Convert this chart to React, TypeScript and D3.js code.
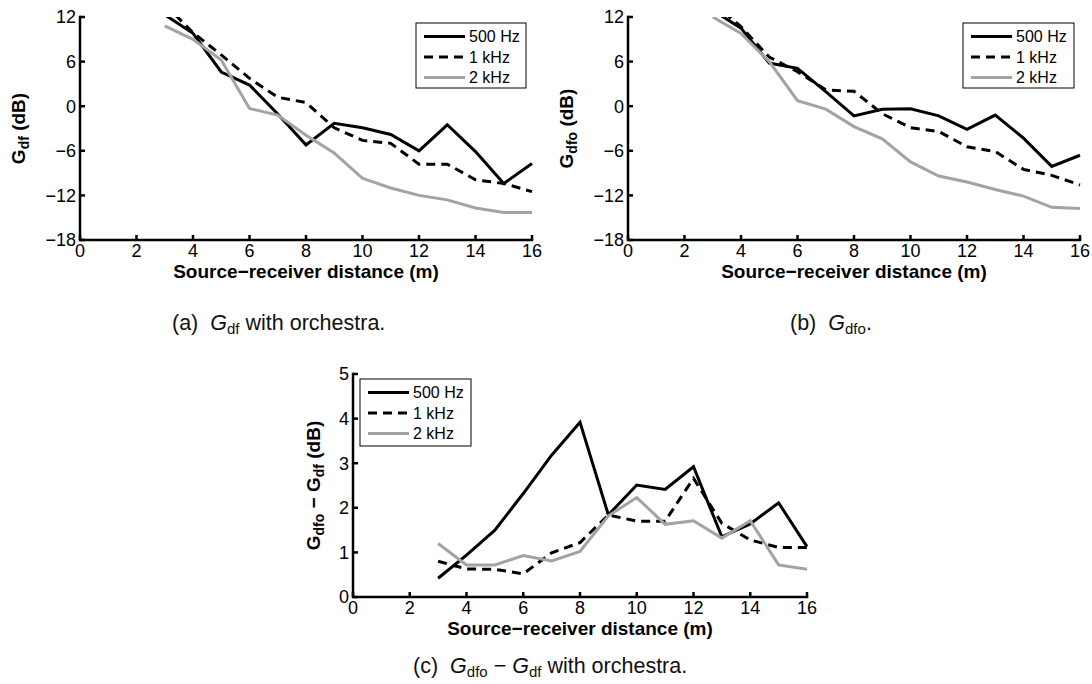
import * as d3 from 'd3'

// source-receiver distance (m)
const distances = [3, 4, 5, 6, 7, 8, 9, 10, 11, 12, 13, 14, 15, 16]
const bands = ['500 Hz', '1 kHz', '2 kHz']

// (a) Gdf with orchestra (dB)
const gdf500 = [12.3, 9.8, 4.6, 2.85, -1.05, -5.2, -2.3, -2.9, -3.8, -6.0, -2.5, -6.1, -10.4, -7.7]
const gdf1k = [13.7, 9.9, 6.9, 3.75, 1.2, 0.5, -2.9, -4.6, -5.0, -7.8, -7.8, -9.9, -10.4, -11.5]
const gdf2k = [10.8, 9.0, 6.2, -0.3, -1.2, -3.9, -6.3, -9.7, -11.0, -12.0, -12.6, -13.7, -14.3, -14.3]

// (b) Gdfo (dB)
const gdfo500 = [12.9, 10.5, 5.8, 5.1, 1.95, -1.3, -0.4, -0.35, -1.3, -3.1, -1.2, -4.3, -8.1, -6.6]
const gdfo1k = [13.9, 10.7, 6.6, 4.65, 2.2, 2.0, -1.0, -2.9, -3.4, -5.45, -6.1, -8.5, -9.3, -10.6]
const gdfo2k = [12.0, 9.8, 6.0, 0.75, -0.4, -2.75, -4.4, -7.5, -9.4, -10.2, -11.2, -12.1, -13.6, -13.75]

// (c) Gdfo - Gdf (dB)
const diff500 = [0.42, 0.94, 1.5, 2.32, 3.18, 3.92, 1.84, 2.51, 2.41, 2.92, 1.35, 1.64, 2.11, 1.13]
const diff1k = [0.8, 0.63, 0.62, 0.52, 0.99, 1.22, 1.84, 1.7, 1.7, 2.66, 1.65, 1.28, 1.11, 1.11]
const diff2k = [1.2, 0.72, 0.72, 0.93, 0.81, 1.02, 1.82, 2.23, 1.63, 1.71, 1.32, 1.71, 0.72, 0.62]

const xTicks = [0, 2, 4, 6, 8, 10, 12, 14, 16]
const gTicks = [-18, -12, -6, 0, 6, 12]
const diffTicks = [0, 1, 2, 3, 4, 5]

const FONT = '"Liberation Sans", Arial, Helvetica, sans-serif'
const lineStyles = [
  { stroke: '#000', dash: undefined },
  { stroke: '#000', dash: '9 6' },
  { stroke: '#a3a3a3', dash: undefined },
]

type PanelProps = {
  id: string
  x0: number
  y0: number
  w: number
  h: number
  yDomain: [number, number]
  yTicks: number[]
  series: number[][]
  yLabel: React.ReactNode
  yLabelX: number
  legend: { x: number; y: number; w: number; h: number }
}

function Panel({ id, x0, y0, w, h, yDomain, yTicks, series, yLabel, yLabelX, legend }: PanelProps) {
  const x = d3.scaleLinear().domain([0, 16]).range([x0, x0 + w])
  const y = d3.scaleLinear().domain(yDomain).range([y0 + h, y0])
  const line = d3
    .line<number>()
    .x((_, i) => x(distances[i]))
    .y((d) => y(d))
  const fmt = d3.format('')

  return (
    <g>
      <defs>
        <clipPath id={id}>
          <rect x={x0 - 20} y={y0} width={w + 40} height={h + 20} />
        </clipPath>
      </defs>
      <g clipPath={`url(#${id})`}>
        {series.map((s, i) => (
          <path
            key={i}
            d={line(s) ?? ''}
            fill="none"
            stroke={lineStyles[i].stroke}
            strokeWidth={3}
            strokeDasharray={lineStyles[i].dash}
            strokeLinejoin="miter"
          />
        ))}
      </g>

      {/* axes */}
      <path
        d={`M${x0},${y0}V${y0 + h}H${x0 + w}`}
        fill="none"
        stroke="#000"
        strokeWidth={2.5}
        strokeLinecap="square"
      />
      {yTicks.map((t) => (
        <g key={'y' + t}>
          <line x1={x0} x2={x0 + 5} y1={y(t)} y2={y(t)} stroke="#000" strokeWidth={2.5} />
          <text x={x0 - 4} y={y(t)} dy="0.35em" textAnchor="end" fontSize={18}>
            {fmt(t)}
          </text>
        </g>
      ))}
      {xTicks.map((t) => (
        <g key={'x' + t}>
          <line x1={x(t)} x2={x(t)} y1={y0 + h} y2={y0 + h - 5} stroke="#000" strokeWidth={2.5} />
          <text x={x(t)} y={y0 + h + 17} textAnchor="middle" fontSize={18}>
            {fmt(t)}
          </text>
        </g>
      ))}

      <text x={x0 + w / 2} y={y0 + h + 38} textAnchor="middle" fontSize={19} fontWeight="bold">
        Source−receiver distance (m)
      </text>
      <text
        transform={`translate(${yLabelX},${y0 + h / 2}) rotate(-90)`}
        textAnchor="middle"
        fontSize={19}
        fontWeight="bold"
      >
        {yLabel}
      </text>

      {/* legend */}
      <rect x={legend.x} y={legend.y} width={legend.w} height={legend.h} fill="#fff" stroke="#000" strokeWidth={1} />
      {bands.map((b, i) => {
        const ly = legend.y + 13.5 + i * 20.5
        return (
          <g key={b}>
            <line
              x1={legend.x + 8}
              x2={legend.x + 49}
              y1={ly}
              y2={ly}
              stroke={lineStyles[i].stroke}
              strokeWidth={3}
              strokeDasharray={lineStyles[i].dash}
            />
            <text x={legend.x + 53} y={ly} dy="0.36em" fontSize={16}>
              {b}
            </text>
          </g>
        )
      })}
    </g>
  )
}

export default function App() {
  return (
    <svg
      width={1092}
      height={684}
      style={{ position: 'absolute', left: 0, top: 0, background: '#fff' }}
      fontFamily={FONT}
    >
      <Panel
        id="clipA"
        x0={80}
        y0={17}
        w={452}
        h={223}
        yDomain={[-18, 12]}
        yTicks={gTicks}
        series={[gdf500, gdf1k, gdf2k]}
        yLabelX={25}
        yLabel={
          <>
            G<tspan fontSize={14} dy={4}>df</tspan>
            <tspan dy={-4}> (dB)</tspan>
          </>
        }
        legend={{ x: 416, y: 23, w: 110, h: 65 }}
      />
      <Panel
        id="clipB"
        x0={628}
        y0={17}
        w={452}
        h={223}
        yDomain={[-18, 12]}
        yTicks={gTicks}
        series={[gdfo500, gdfo1k, gdfo2k]}
        yLabelX={573}
        yLabel={
          <>
            G<tspan fontSize={14} dy={4}>dfo</tspan>
            <tspan dy={-4}> (dB)</tspan>
          </>
        }
        legend={{ x: 963, y: 23, w: 111, h: 65 }}
      />
      <Panel
        id="clipC"
        x0={353}
        y0={374}
        w={454}
        h={223}
        yDomain={[0, 5]}
        yTicks={diffTicks}
        series={[diff500, diff1k, diff2k]}
        yLabelX={320}
        yLabel={
          <>
            G<tspan fontSize={14} dy={4}>dfo</tspan>
            <tspan dy={-4}> − G</tspan>
            <tspan fontSize={14} dy={4}>df</tspan>
            <tspan dy={-4}> (dB)</tspan>
          </>
        }
        legend={{ x: 360, y: 379, w: 111, h: 67 }}
      />

      {/* captions */}
      <text x={172} y={330} fontSize={21.5} fill="#111">
        (a)
        <tspan dx={12} fontStyle="italic">G</tspan>
        <tspan fontSize={15} dy={4}>df</tspan>
        <tspan dy={-4}> with orchestra.</tspan>
      </text>
      <text x={790} y={330} fontSize={21.5} fill="#111">
        (b)
        <tspan dx={12} fontStyle="italic">G</tspan>
        <tspan fontSize={15} dy={4}>dfo</tspan>
        <tspan dy={-4}>.</tspan>
      </text>
      <text x={413} y={673} fontSize={21.5} fill="#111">
        (c)
        <tspan dx={12} fontStyle="italic">G</tspan>
        <tspan fontSize={15} dy={4}>dfo</tspan>
        <tspan dy={-4}> − </tspan>
        <tspan fontStyle="italic">G</tspan>
        <tspan fontSize={15} dy={4}>df</tspan>
        <tspan dy={-4}> with orchestra.</tspan>
      </text>
    </svg>
  )
}
